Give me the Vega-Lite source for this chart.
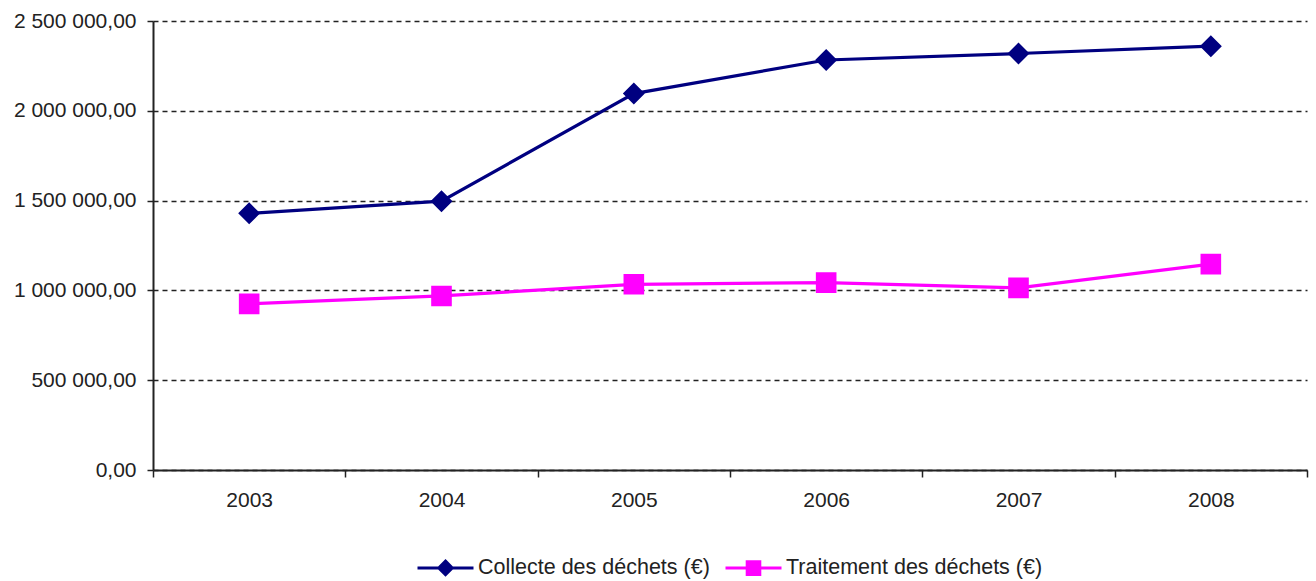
{
  "$schema": "https://vega.github.io/schema/vega-lite/v6.json",
  "width": 1154,
  "height": 449,
  "autosize": "none",
  "padding": {"left": 153, "top": 21, "right": 9, "bottom": 111},
  "background": "white",
  "config": {
    "locale": {"number": {"decimal": ",", "thousands": " ", "grouping": [3], "currency": ["", " €"]}},
    "view": {"stroke": null},
    "font": "Liberation Sans"
  },
  "data": {
    "values": [
      {"annee": "2003", "serie": "Collecte des déchets (€)", "montant": 1429000},
      {"annee": "2004", "serie": "Collecte des déchets (€)", "montant": 1497000},
      {"annee": "2005", "serie": "Collecte des déchets (€)", "montant": 2096000},
      {"annee": "2006", "serie": "Collecte des déchets (€)", "montant": 2283000},
      {"annee": "2007", "serie": "Collecte des déchets (€)", "montant": 2319000},
      {"annee": "2008", "serie": "Collecte des déchets (€)", "montant": 2360000},
      {"annee": "2003", "serie": "Traitement des déchets (€)", "montant": 925000},
      {"annee": "2004", "serie": "Traitement des déchets (€)", "montant": 969000},
      {"annee": "2005", "serie": "Traitement des déchets (€)", "montant": 1034000},
      {"annee": "2006", "serie": "Traitement des déchets (€)", "montant": 1043000},
      {"annee": "2007", "serie": "Traitement des déchets (€)", "montant": 1014000},
      {"annee": "2008", "serie": "Traitement des déchets (€)", "montant": 1146000}
    ]
  },
  "encoding": {
    "x": {
      "field": "annee", "type": "ordinal",
      "scale": {"type": "band", "paddingInner": 0, "paddingOuter": 0},
      "axis": {
        "title": null, "labelAngle": 0, "tickBand": "extent",
        "domainColor": "#222", "domainWidth": 2, "tickColor": "#222", "tickWidth": 1.5, "tickSize": 7,
        "labelFontSize": 21, "labelColor": "#222", "labelPadding": 12, "grid": false
      }
    },
    "y": {
      "field": "montant", "type": "quantitative",
      "scale": {"domain": [0, 2500000], "nice": false},
      "axis": {
        "title": null, "values": [0, 500000, 1000000, 1500000, 2000000, 2500000], "format": ",.2f",
        "domainColor": "#222", "domainWidth": 2, "tickColor": "#222", "tickWidth": 1.5, "tickSize": 6,
        "labelFontSize": 21, "labelColor": "#222", "labelPadding": 11,
        "grid": true, "gridColor": "#222", "gridWidth": 1.5, "gridDash": [5, 4]
      }
    },
    "color": {
      "field": "serie", "type": "nominal",
      "scale": {"domain": ["Collecte des déchets (€)", "Traitement des déchets (€)"], "range": ["#000080", "#FF00FF"]},
      "legend": {
        "title": null, "orient": "none", "direction": "horizontal",
        "legendX": 263, "legendY": 517,
        "symbolSize": 3136, "symbolStrokeWidth": 3, "labelFontSize": 21.5, "labelColor": "#222", "labelOffset": 3, "columnPadding": 9,
        "labelLimit": 400,
        "encode": {
          "symbols": {
            "update": {
              "stroke": {"scale": "color", "field": "value"},
              "fill": {"scale": "color", "field": "value"},
              "strokeWidth": {"value": 3},
              "opacity": {"value": 1}
            }
          }
        }
      }
    }
  },
  "layer": [
    {"mark": {"type": "line", "strokeWidth": 3.2}},
    {
      "mark": {"type": "point", "filled": true, "opacity": 1, "size": 8390, "strokeWidth": 0},
      "encoding": {
        "shape": {
          "field": "serie", "type": "nominal",
          "scale": {"domain": ["Collecte des déchets (€)", "Traitement des déchets (€)"], "range": ["M-1,0L1,0M0,-0.24L0.24,0L0,0.24L-0.24,0Z", "M-1,0L1,0M-0.225,-0.225L0.225,-0.225L0.225,0.225L-0.225,0.225Z"]},
          "legend": {"title": null}
        }
      }
    }
  ]
}
